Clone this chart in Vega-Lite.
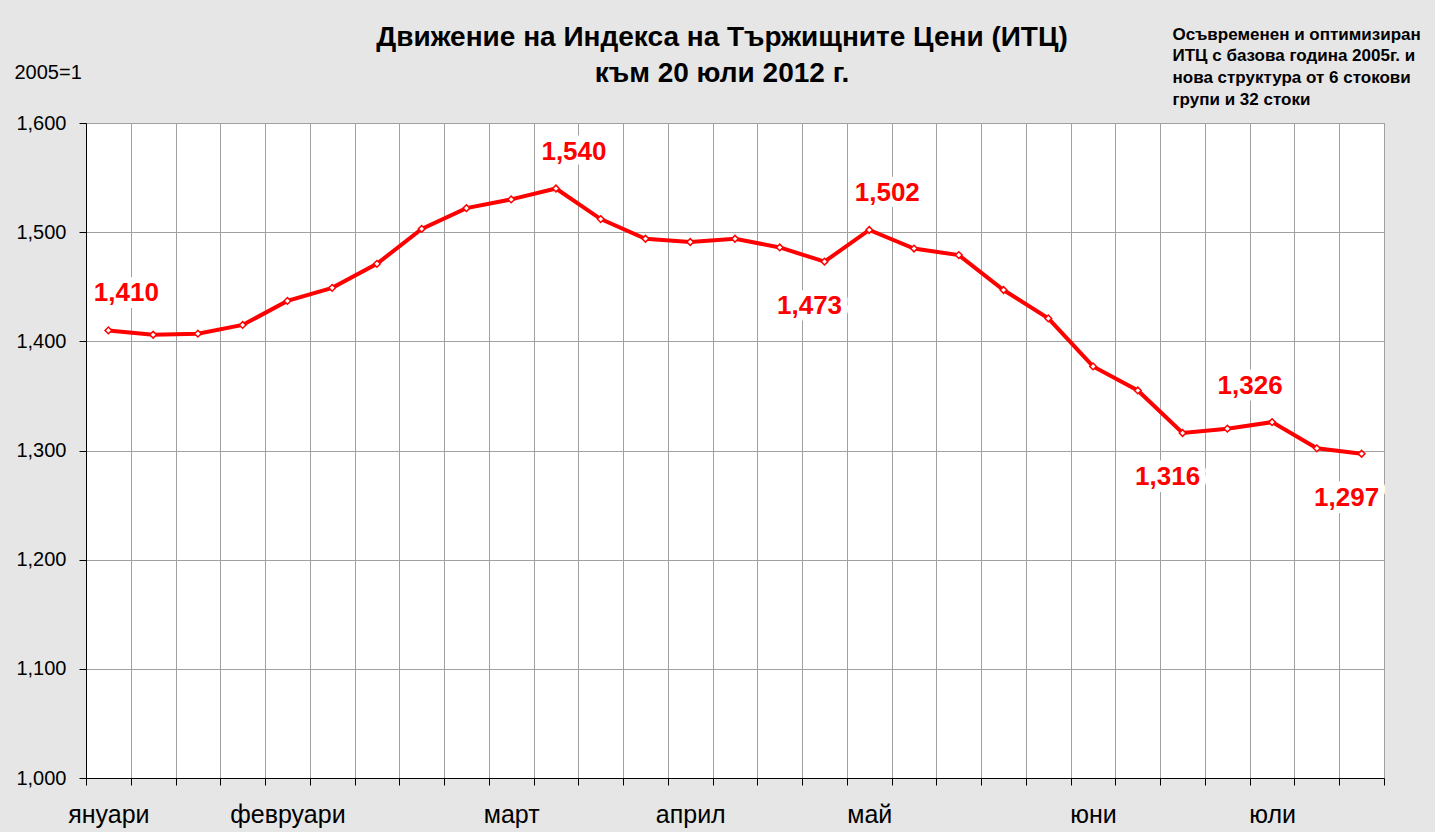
{
  "$schema": "https://vega.github.io/schema/vega-lite/v6.json",
  "width": 1298,
  "height": 655,
  "autosize": {"type": "none"},
  "padding": {"left": 86, "top": 123, "right": 51, "bottom": 54},
  "background": "#e6e6e6",
  "title": {
    "text": ["Движение на Индекса на Тържищните Цени (ИТЦ)", "към 20 юли 2012 г."],
    "fontSize": 28,
    "font": "Liberation Sans",
    "fontWeight": "bold",
    "color": "#000000",
    "anchor": "middle",
    "dx": -13,
    "offset": -63,
    "lineHeight": 36
  },
  "data": {
    "values": [
      {"date": "2012-01-06", "value": 1.410, "pos": "above right"},
      {"date": "2012-01-13", "value": 1.406, "pos": ""},
      {"date": "2012-01-20", "value": 1.407, "pos": ""},
      {"date": "2012-01-27", "value": 1.415, "pos": ""},
      {"date": "2012-02-03", "value": 1.437, "pos": ""},
      {"date": "2012-02-10", "value": 1.449, "pos": ""},
      {"date": "2012-02-17", "value": 1.471, "pos": ""},
      {"date": "2012-02-24", "value": 1.503, "pos": ""},
      {"date": "2012-03-02", "value": 1.522, "pos": ""},
      {"date": "2012-03-09", "value": 1.530, "pos": ""},
      {"date": "2012-03-16", "value": 1.540, "pos": "above right"},
      {"date": "2012-03-23", "value": 1.512, "pos": ""},
      {"date": "2012-03-30", "value": 1.494, "pos": ""},
      {"date": "2012-04-06", "value": 1.491, "pos": ""},
      {"date": "2012-04-13", "value": 1.494, "pos": ""},
      {"date": "2012-04-20", "value": 1.486, "pos": ""},
      {"date": "2012-04-27", "value": 1.473, "pos": "below left"},
      {"date": "2012-05-04", "value": 1.502, "pos": "above right"},
      {"date": "2012-05-11", "value": 1.485, "pos": ""},
      {"date": "2012-05-18", "value": 1.479, "pos": ""},
      {"date": "2012-05-25", "value": 1.447, "pos": ""},
      {"date": "2012-06-01", "value": 1.421, "pos": ""},
      {"date": "2012-06-08", "value": 1.377, "pos": ""},
      {"date": "2012-06-15", "value": 1.355, "pos": ""},
      {"date": "2012-06-22", "value": 1.316, "pos": "below left"},
      {"date": "2012-06-29", "value": 1.320, "pos": ""},
      {"date": "2012-07-06", "value": 1.326, "pos": "above left"},
      {"date": "2012-07-13", "value": 1.302, "pos": ""},
      {"date": "2012-07-20", "value": 1.297, "pos": "below left"}
    ]
  },
  "layer": [
    {
      "transform": [{"filter": "datum.pos == 'above right'"}],
      "mark": {"type": "text", "color": "#ffffff", "stroke": "#ffffff", "strokeWidth": 14, "strokeJoin": "round", "fontSize": 26, "fontWeight": "bold", "dx": 18, "dy": -37},
      "encoding": {
        "x": {
          "field": "date",
          "type": "ordinal",
          "scale": {"type": "band", "paddingInner": 0, "paddingOuter": 0},
          "axis": {
            "title": null,
            "tickBand": "extent",
            "grid": true,
            "gridColor": "#a0a0a0",
            "gridWidth": 1,
            "domainColor": "#000000",
            "tickColor": "#000000",
            "tickSize": 7,
            "labelAngle": 0,
            "labelOverlap": false,
            "labelFontSize": 25,
            "labelColor": "#000000",
            "labelPadding": 17,
            "labelExpr": "datum.value == '2012-01-06' ? 'януари' : datum.value == '2012-02-03' ? 'февруари' : datum.value == '2012-03-09' ? 'март' : datum.value == '2012-04-06' ? 'април' : datum.value == '2012-05-04' ? 'май' : datum.value == '2012-06-08' ? 'юни' : datum.value == '2012-07-06' ? 'юли' : ''"
          }
        },
        "y": {
          "field": "value",
          "type": "quantitative",
          "scale": {"domain": [1.0, 1.6], "nice": false, "zero": false},
          "axis": {
            "values": [1.0, 1.1, 1.2, 1.3, 1.4, 1.5, 1.6],
            "format": ".3f",
            "grid": true,
            "gridColor": "#a0a0a0",
            "domainColor": "#000000",
            "tickColor": "#000000",
            "tickSize": 7,
            "labelFontSize": 20,
            "labelColor": "#000000",
            "labelPadding": 13,
            "title": "2005=1",
            "titleFontSize": 20,
            "titleFontWeight": "normal",
            "titleColor": "#000000",
            "titleAngle": 0,
            "titleAlign": "left",
            "titleBaseline": "middle",
            "titleX": -72,
            "titleY": -51
          }
        },
        "text": {"field": "value", "type": "quantitative", "format": ".3f"}
      }
    },
    {
      "transform": [{"filter": "datum.pos == 'above left'"}],
      "mark": {"type": "text", "color": "#ffffff", "stroke": "#ffffff", "strokeWidth": 14, "strokeJoin": "round", "fontSize": 26, "fontWeight": "bold", "dx": -22, "dy": -36},
      "encoding": {
        "x": {"field": "date", "type": "ordinal", "axis": null},
        "y": {"field": "value", "type": "quantitative", "axis": null},
        "text": {"field": "value", "type": "quantitative", "format": ".3f"}
      }
    },
    {
      "transform": [{"filter": "datum.pos == 'below left'"}],
      "mark": {"type": "text", "color": "#ffffff", "stroke": "#ffffff", "strokeWidth": 14, "strokeJoin": "round", "fontSize": 26, "fontWeight": "bold", "dx": -15, "dy": 44},
      "encoding": {
        "x": {"field": "date", "type": "ordinal", "axis": null},
        "y": {"field": "value", "type": "quantitative", "axis": null},
        "text": {"field": "value", "type": "quantitative", "format": ".3f"}
      }
    },
    {
      "mark": {
        "type": "line",
        "color": "#ff0000",
        "strokeWidth": 4,
        "point": {"shape": "diamond", "filled": true, "fill": "#ffffff", "stroke": "#ff0000", "strokeWidth": 1.5, "size": 45}
      },
      "encoding": {
        "x": {"field": "date", "type": "ordinal", "axis": null},
        "y": {
          "field": "value",
          "type": "quantitative",
          "axis": {
            "orient": "right",
            "labels": false,
            "ticks": false,
            "domain": false,
            "grid": false,
            "title": ["Осъвременен и оптимизиран", "ИТЦ с базова година 2005г. и", "нова структура от 6 стокови", "групи и 32 стоки"],
            "titleFontSize": 17,
            "titleFontWeight": "bold",
            "titleColor": "#000000",
            "titleAngle": 0,
            "titleAlign": "left",
            "titleBaseline": "top",
            "titleLineHeight": 21.7,
            "titleX": -212,
            "titleY": -97
          }
        }
      }
    },
    {
      "transform": [{"filter": "datum.pos == 'above right'"}],
      "mark": {"type": "text", "color": "#ff0000", "fontSize": 26, "fontWeight": "bold", "dx": 18, "dy": -37},
      "encoding": {
        "x": {"field": "date", "type": "ordinal", "axis": null},
        "y": {"field": "value", "type": "quantitative", "axis": null},
        "text": {"field": "value", "type": "quantitative", "format": ".3f"}
      }
    },
    {
      "transform": [{"filter": "datum.pos == 'above left'"}],
      "mark": {"type": "text", "color": "#ff0000", "fontSize": 26, "fontWeight": "bold", "dx": -22, "dy": -36},
      "encoding": {
        "x": {"field": "date", "type": "ordinal", "axis": null},
        "y": {"field": "value", "type": "quantitative", "axis": null},
        "text": {"field": "value", "type": "quantitative", "format": ".3f"}
      }
    },
    {
      "transform": [{"filter": "datum.pos == 'below left'"}],
      "mark": {"type": "text", "color": "#ff0000", "fontSize": 26, "fontWeight": "bold", "dx": -15, "dy": 44},
      "encoding": {
        "x": {"field": "date", "type": "ordinal", "axis": null},
        "y": {"field": "value", "type": "quantitative", "axis": null},
        "text": {"field": "value", "type": "quantitative", "format": ".3f"}
      }
    }
  ],
  "resolve": {"axis": {"x": "independent", "y": "independent"}},
  "config": {
    "font": "Liberation Sans",
    "locale": {"number": {"decimal": ",", "thousands": ".", "grouping": [3], "currency": ["", ""]}},
    "view": {"stroke": "#808080", "fill": "#ffffff"},
    "axis": {"labelFont": "Liberation Sans", "titleFont": "Liberation Sans"}
  }
}
